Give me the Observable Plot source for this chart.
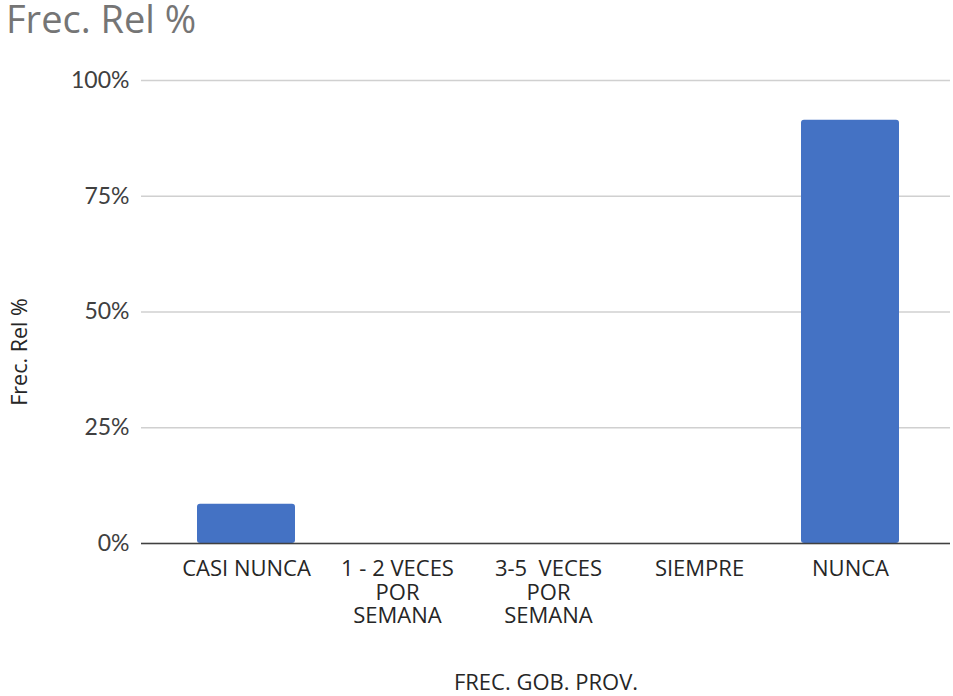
<!DOCTYPE html>
<html>
<head>
<meta charset="utf-8">
<script src="https://cdn.jsdelivr.net/npm/d3@7"></script>
<script src="https://cdn.jsdelivr.net/npm/@observablehq/plot@0.6"></script>
<style>
  html, body { margin: 0; padding: 0; background: #fff; }
  #wrap { position: relative; width: 953px; height: 696px; }
  #title { height: 48px; box-sizing: border-box; padding: 0 0 0 6px; font-family: "Open Sans", sans-serif; font-size: 38px; color: #757575; line-height: 36px; }
  #ylabel { position: absolute; left: 18px; top: 352px; transform: translate(-50%, -50%) rotate(-90deg); font-family: "Open Sans", sans-serif; font-size: 21.5px; color: #262626; white-space: nowrap; }
  #chart svg { display: block; }
</style>
</head>
<body>
<div id="wrap">
<div id="title">Frec. Rel %</div>
<div id="chart"></div>
<div id="ylabel"></div>
</div>
<script>
const categories = ["CASI NUNCA", "1 - 2 VECES POR SEMANA", "3-5  VECES POR SEMANA", "SIEMPRE", "NUNCA"];
const tickLabels = ["CASI NUNCA", "1 - 2 VECES\nPOR\nSEMANA", "3-5\u00a0 VECES\nPOR\nSEMANA", "SIEMPRE", "NUNCA"];
const values = [0.085, 0, 0, 0, 0.914];
const yTicks = [0, 0.25, 0.5, 0.75, 1];
const xLabel = "FREC. GOB. PROV.";
const yLabel = "Frec. Rel %";

document.getElementById("ylabel").textContent = yLabel;

const data = categories.map((c, i) => ({cat: c, value: values[i]}));
const labelOf = new Map(categories.map((c, i) => [c, tickLabels[i]]));

const chart = Plot.plot({
  width: 953,
  height: 648,
  marginTop: 32,
  marginBottom: 153,
  marginLeft: 141,
  marginRight: 3,
  style: {fontFamily: "'Open Sans', sans-serif", fontSize: "21px", color: "#404040", background: "#fff"},
  x: {domain: categories, padding: 0.35, insetLeft: 3, insetRight: -3, label: null},
  y: {domain: [0, 1], label: null},
  marks: [
    Plot.gridY(yTicks, {stroke: "#d0d0d0", strokeOpacity: 1, strokeWidth: 1.3}),
    Plot.barY(data, {x: "cat", y: "value", fill: "#4472C4", rx: 3}),
    Plot.ruleY([0], {stroke: "#404040", strokeWidth: 1.5}),
    Plot.axisY(yTicks, {tickSize: 0, tickPadding: 12, tickFormat: d3.format(".0%"), fontSize: 23, fill: "#404040", label: null, fontFamily: "Lato, sans-serif"}),
    Plot.axisX({tickSize: 0, tickPadding: 15, tickFormat: d => labelOf.get(d), fontSize: 22, lineHeight: 1.09, fill: "#262626", label: null}),
    Plot.text([xLabel], {frameAnchor: "bottom", dy: 146, fontSize: 22, fill: "#262626"})
  ]
});
document.getElementById("chart").appendChild(chart);
</script>
</body>
</html>
